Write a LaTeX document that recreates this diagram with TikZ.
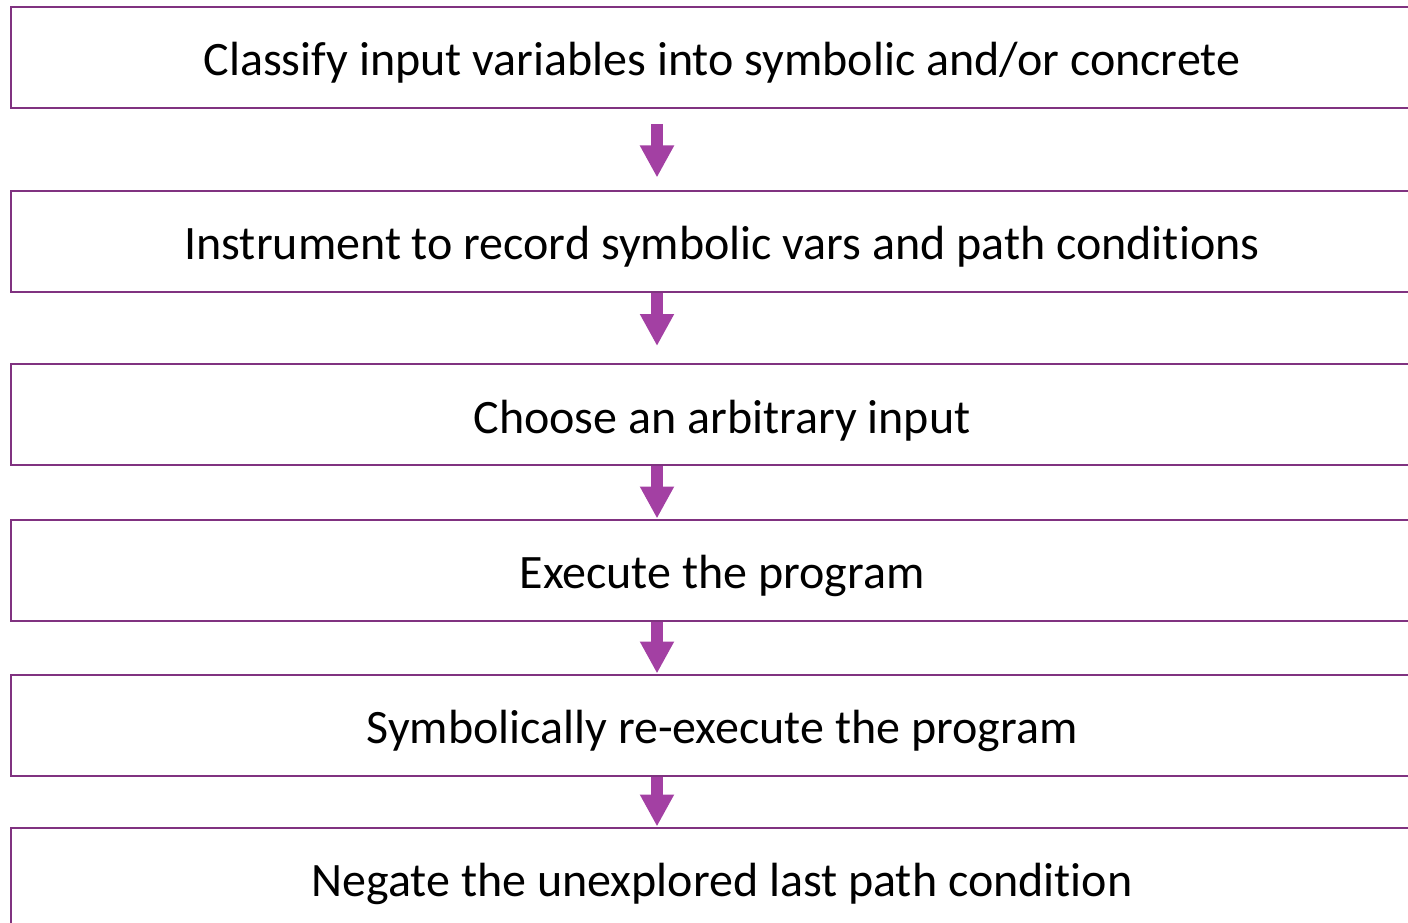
\documentclass[tikz,border=0pt]{standalone}
\usepackage{fontspec}
\setmainfont{Carlito}[Ligatures=NoCommon]
\usepackage{tikz}
\usetikzlibrary{arrows.meta}
\definecolor{boxline}{RGB}{128,50,128}
\definecolor{flowfill}{RGB}{163,64,163}

\tikzset{
  stepbox/.style={draw=boxline, line width=2pt, fill=white, anchor=north west,
    minimum width=1422pt, minimum height=101pt, inner sep=0pt,
    text height=40pt, text depth=3pt,
    font=\fontsize{48}{56}\selectfont},
  flow/.style={draw=flowfill, line width=12.5pt,
    -{Triangle[width=32pt,length=32pt]}}
}

\begin{document}
\begin{tikzpicture}[x=1pt,y=-1pt]
        \useasboundingbox (0,0) rectangle (1408,923);
        \clip (0,0) rectangle (1408,923);
        % Steps
        \node[stepbox] (classify) at (10,6) {Classify input variables into symbolic and/or concrete};
        \node[stepbox] (instrument) at (10,189.5) {Instrument to record symbolic vars and path conditions};
        \node[stepbox] (choose) at (10,363) {Choose an arbitrary input};
        \node[stepbox] (execute) at (10,518.5) {Execute the program};
        \node[stepbox] (reexec) at (10,673.5) {Symbolically re-execute the program};
        \node[stepbox] (negate) at (10,826.5) {Negate the unexplored last path condition};
        % Flow arrows
        \draw[flow] ([xshift=-65pt,yshift=-15pt]classify.south) -- ([xshift=-65pt,yshift=12pt]instrument.north);
        \draw[flow] ([xshift=-65pt]instrument.south) -- ([xshift=-65pt,yshift=17pt]choose.north);
        \draw[flow] ([xshift=-65pt]choose.south) -- ([xshift=-65pt]execute.north);
        \draw[flow] ([xshift=-65pt]execute.south) -- ([xshift=-65pt]reexec.north);
        \draw[flow] ([xshift=-65pt]reexec.south) -- ([xshift=-65pt]negate.north);
    \end{tikzpicture}
\end{document}
